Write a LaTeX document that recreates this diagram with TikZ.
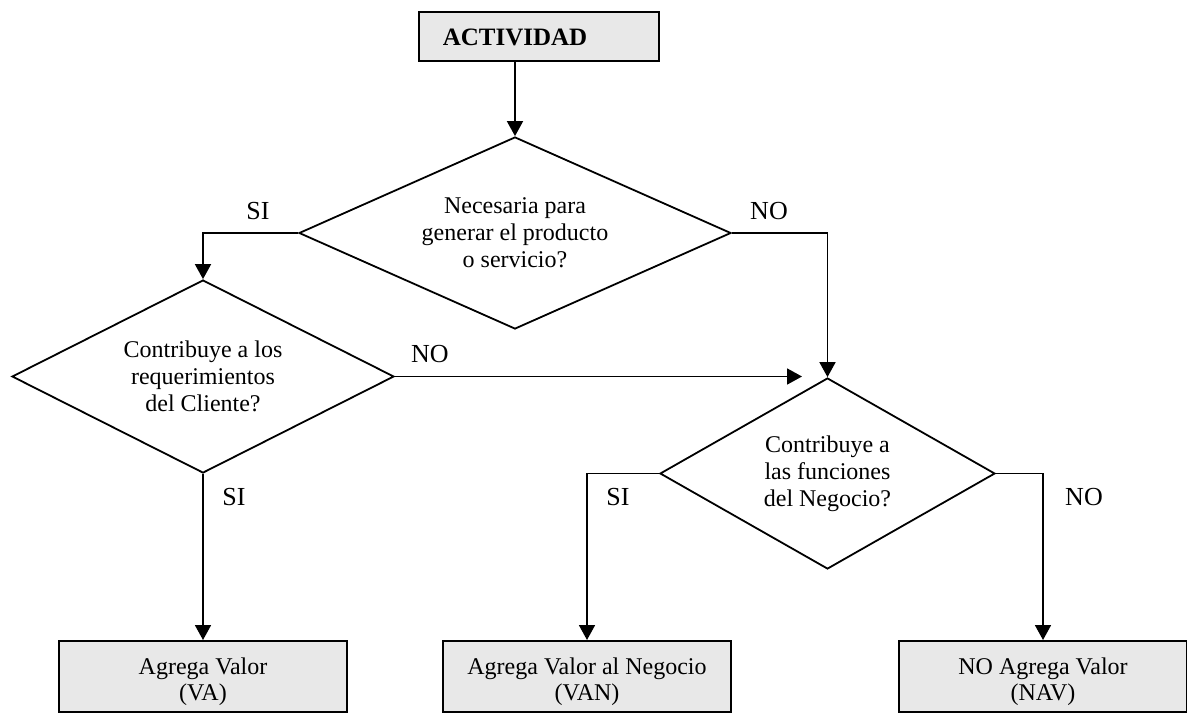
\documentclass[tikz,border=0pt]{standalone}
\usepackage{fontspec}
\setmainfont{Liberation Serif}
\usetikzlibrary{shapes.geometric,arrows.meta}
\definecolor{boxgray}{HTML}{E8E8E8}
\newcommand\tallstrut{\rule{0pt}{27pt}}
\tikzset{
  ln/.style={line width=1.8pt},
  arr/.style={ln,-{Triangle[length=15pt,width=16pt]}},
  dec/.style={shape=diamond,draw,ln,inner sep=0pt,align=center,font=\fontsize{24}{27}\selectfont},
  resbox/.style={draw,line width=2pt,fill=boxgray,minimum width=288pt,minimum height=71pt,inner sep=0pt,align=center,font=\fontsize{24}{26}\selectfont},
  lab/.style={font=\fontsize{26}{28}\selectfont,inner sep=0pt}
}
\begin{document}
\begin{tikzpicture}[x=1pt,y=-1pt]
\useasboundingbox (0,0) rectangle (1187,713);
% top box
\node[draw,line width=2pt,fill=boxgray,minimum width=240pt,minimum height=49pt,inner sep=0pt] (act) at (539,36.5) {};
\node[font=\fontsize{25}{27}\selectfont\bfseries,inner sep=0pt] (acttxt) at (515,37) {ACTIVIDAD};
% decisions
\node[dec,minimum width=432pt,minimum height=192pt,aspect=2.25] (d1) at (515,233)
  {Necesaria para\\generar el producto\\o servicio?};
\node[dec,minimum width=382pt,minimum height=193pt,aspect=2] (d2) at (203,376.5)
  {Contribuye a los\\requerimientos\\del Cliente?};
\node[dec,minimum width=335pt,minimum height=191pt,aspect=1.75] (d3) at (827.5,473.5)
  {Contribuye a\\las funciones\\del Negocio?};
% result boxes
\node[resbox] (va) at (203,676.5) {\tallstrut Agrega Valor\\(VA)};
\node[resbox] (van) at (587,676.5) {\tallstrut Agrega Valor al Negocio\\(VAN)};
\node[resbox] (nav) at (1043,676.5) {\tallstrut NO Agrega Valor\\(NAV)};
% connectors
\draw[arr] (act.south -| d1.north) -- (d1.north);
\draw[arr] (d1.west) -| (d2.north);
\draw[arr] (d1.east) -| (d3.north);
\coordinate (noend) at (802,376.5);
\draw[arr] (d2.east) -- (noend);
\draw[arr] (d2.south) -- (va.north);
\draw[arr] (d3.west) -| (van.north);
\draw[arr] (d3.east) -| (nav.north);
% labels
\node[lab] (l1) at (258,211) {SI};
\node[lab] (l2) at (769,211) {NO};
\node[lab] (l3) at (430,354) {NO};
\node[lab] (l4) at (234,497) {SI};
\node[lab] (l5) at (618,497) {SI};
\node[lab] (l6) at (1084,497) {NO};
\end{tikzpicture}
\end{document}
